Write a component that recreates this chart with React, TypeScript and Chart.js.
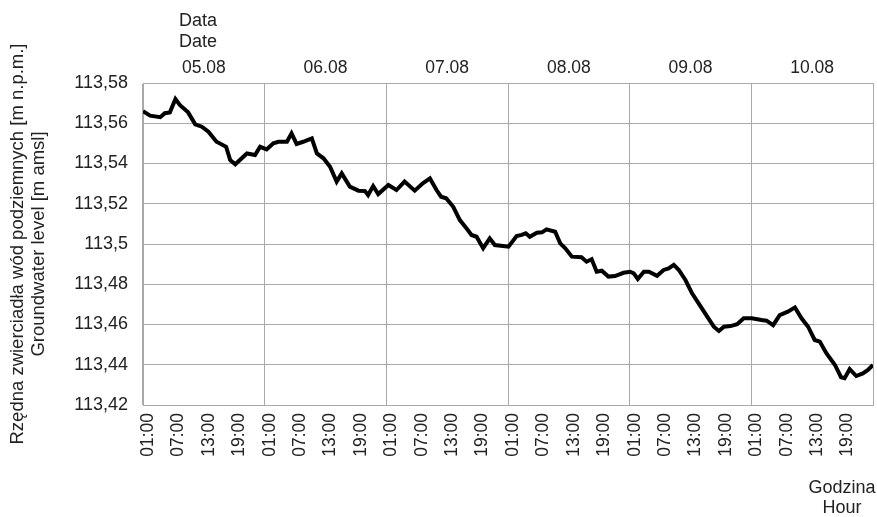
import { useEffect, useRef } from 'react';
import { Chart, registerables } from 'chart.js';

Chart.register(...registerables);

// Top axis: dates (one per day)
const dateLabels = ['05.08', '06.08', '07.08', '08.08', '09.08', '10.08'];
// Bottom axis: hour labels repeated every day
const hourLabels = ['01:00', '07:00', '13:00', '19:00'];
const hourOfLabel = [1, 7, 13, 19];
// Y axis ticks
const yTicks = [113.42, 113.44, 113.46, 113.48, 113.5, 113.52, 113.54, 113.56, 113.58];

// Series: hours since 05.08 00:00 and groundwater level [m a.s.l.]
const hours = [
  0, 1.4, 3.4, 4.3, 5.3, 6.4, 7.3, 8.9, 10.3, 11.6, 12.9, 14.5, 16.4, 17.2, 18.2, 20.5, 22.1, 23.1,
  24.4, 25.7, 26.7, 28.4, 29.3, 30.3, 31.6, 33.3, 34.3, 35.6, 36.9, 38.2, 39.2, 40.8, 42.5, 43.8, 44.4, 45.4, 46.4,
  48.4, 50.0, 51.6, 53.6, 55.2, 56.6, 57.9, 58.8, 59.8, 61.2, 62.5, 63.8, 64.8, 65.8, 67.1, 68.4, 69.4, 71.0,
  72.1, 73.7, 74.7, 75.5, 76.3, 77.7, 78.7, 79.6, 81.3, 82.3, 83.3, 84.6, 86.5, 87.5, 88.5, 89.5, 90.5, 91.8, 93.1, 94.8,
  96.1, 96.8, 97.6, 98.8, 99.8, 101.4, 102.7, 103.7, 104.7, 105.7, 107.0, 108.3, 109.6, 111.3, 112.6, 113.6, 114.6, 115.9, 117.2, 118.5,
  120.1, 122.0, 123.0, 124.3, 125.6, 127.2, 128.6, 129.9, 131.2, 132.5, 133.5, 134.8, 136.5, 137.7, 138.4, 139.4, 140.7, 142.0, 143.0, 144.0,
];
const levels = [
  113.566, 113.5638, 113.563, 113.565, 113.5654, 113.572, 113.569, 113.5654, 113.5595, 113.5583, 113.5558, 113.5508, 113.5483, 113.5417, 113.5396, 113.545, 113.5442, 113.5483,
  113.547, 113.55, 113.5508, 113.5508, 113.555, 113.5497, 113.5508, 113.5525, 113.545, 113.5426, 113.5384, 113.531, 113.5351, 113.5285, 113.5265, 113.5263, 113.5243, 113.5288, 113.5248,
  113.5293, 113.5268, 113.531, 113.5265, 113.5302, 113.5326, 113.5268, 113.5235, 113.5227, 113.5185, 113.5119, 113.5078, 113.5045, 113.5036, 113.4979, 113.5028, 113.4995, 113.499,
  113.4987, 113.504, 113.5045, 113.5053, 113.5036, 113.5056, 113.5058, 113.5073, 113.5061, 113.5003, 113.4979, 113.4937, 113.4934, 113.4912, 113.4924, 113.4862, 113.4867, 113.4838, 113.4841, 113.4857,
  113.4862, 113.4854, 113.4826, 113.4862, 113.4862, 113.4842, 113.4871, 113.4879, 113.4896, 113.4871, 113.4821, 113.4755, 113.4705, 113.4639, 113.4589, 113.4568, 113.4589, 113.4592, 113.4601, 113.4631,
  113.4631, 113.4622, 113.4619, 113.4597, 113.4647, 113.4664, 113.4685, 113.4631, 113.4589, 113.4523, 113.4515, 113.4457, 113.4399, 113.4338, 113.4333, 113.4378, 113.4344, 113.4357, 113.4374, 113.4399,
];

const FONT = '"Liberation Sans", Arial, sans-serif';
const TEXT = '#222';
const GRID = '#a9a9a9';

const fmt = (v: number) =>
  Number(v).toFixed(2).replace(/0+$/, '').replace(/\.$/, '').replace('.', ',');

export default function App() {
  const ref = useRef<HTMLCanvasElement>(null);

  useEffect(() => {
    if (!ref.current) return;
    const hourTickValues: number[] = [];
    dateLabels.forEach((_, d) => hourOfLabel.forEach((h) => hourTickValues.push(d * 24 + h)));
    const dateTickValues = dateLabels.map((_, d) => d * 24 + 12);

    const extraTitles = {
      id: 'extraTitles',
      afterDraw(chart: any) {
        const ctx = chart.ctx;
        ctx.save();
        ctx.fillStyle = TEXT;
        ctx.font = `18px ${FONT}`;
        ctx.textBaseline = 'middle';
        ctx.textAlign = 'left';
        ctx.fillText('Data', 179, 21);
        ctx.fillText('Date', 179, 42);
        ctx.textAlign = 'center';
        ctx.fillText('Godzina', 842, 488);
        ctx.fillText('Hour', 842, 508);
        ctx.restore();
      },
    };

    const chart = new Chart(ref.current, {
      type: 'line',
      data: {
        datasets: [
          {
            data: hours.map((h, i) => ({ x: h, y: levels[i] })),
            borderColor: '#000',
            borderWidth: 4,
            pointRadius: 0,
            tension: 0,
            fill: false,
            xAxisID: 'x',
            yAxisID: 'y',
          },
        ],
      },
      options: {
        animation: false,
        responsive: true,
        maintainAspectRatio: false,
        layout: { padding: { left: 0, right: 4, top: 0, bottom: 0 } },
        plugins: { legend: { display: false }, tooltip: { enabled: false } },
        scales: {
          x: {
            type: 'linear',
            position: 'bottom',
            min: 0,
            max: 144,
            afterBuildTicks: (s: any) => {
              s.ticks = hourTickValues.map((v) => ({ value: v }));
            },
            afterFit: (s: any) => {
              s.height = 112;
            },
            ticks: {
              autoSkip: false,
              minRotation: 90,
              maxRotation: 90,
              padding: 8,
              color: TEXT,
              font: { family: FONT, size: 17.5 },
              callback: (_v: any, i: number) => hourLabels[i % hourLabels.length],
            },
            grid: { display: false, drawTicks: false },
            border: { display: true, color: GRID },
          },
          x2: {
            type: 'linear',
            position: 'top',
            min: 0,
            max: 144,
            afterBuildTicks: (s: any) => {
              s.ticks = dateTickValues.map((v) => ({ value: v }));
            },
            afterFit: (s: any) => {
              s.height = 83;
            },
            ticks: {
              autoSkip: false,
              maxRotation: 0,
              padding: 4,
              color: TEXT,
              font: { family: FONT, size: 17.5 },
              callback: (_v: any, i: number) => dateLabels[i],
            },
            grid: { display: true, offset: true, drawTicks: false, color: GRID, lineWidth: 1 },
            border: { display: true, color: GRID },
          },
          y: {
            type: 'linear',
            min: 113.42,
            max: 113.58,
            afterBuildTicks: (s: any) => {
              s.ticks = yTicks.map((v) => ({ value: v }));
            },
            afterFit: (s: any) => {
              s.width = 143;
            },
            ticks: {
              padding: 15,
              color: TEXT,
              font: { family: FONT, size: 18 },
              callback: (v: any) => fmt(v),
            },
            grid: { display: true, drawTicks: false, color: GRID, lineWidth: 1 },
            border: { display: true, color: GRID },
            title: {
              display: true,
              text: ['Rzędna zwierciadła wód podziemnych [m n.p.m.]', 'Groundwater level [m amsl]'],
              color: TEXT,
              font: { family: FONT, size: 18.5, lineHeight: 1.1 },
              padding: { top: 8, bottom: 0 },
            },
          },
        },
      },
      plugins: [extraTitles],
    });
    return () => chart.destroy();
  }, []);

  return (
    <div style={{ position: 'absolute', left: 0, top: 0, width: 877, height: 517, background: '#fff' }}>
      <canvas ref={ref} />
    </div>
  );
}
